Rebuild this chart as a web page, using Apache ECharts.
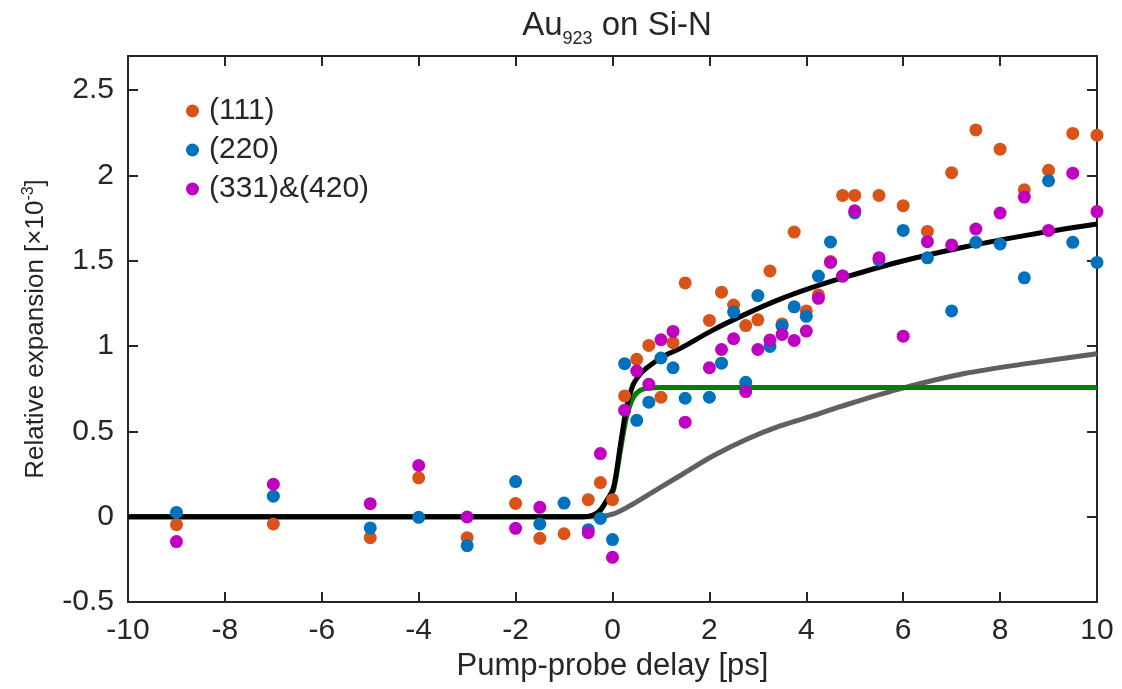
<!DOCTYPE html>
<html>
<head>
<meta charset="utf-8">
<script src="https://cdn.jsdelivr.net/npm/echarts@6/dist/echarts.min.js"></script>
<style>
html,body{margin:0;padding:0;background:#fff;}
#chart{width:1122px;height:689px;}
</style>
</head>
<body>
<div id="chart"></div>
<script>
// Pump-probe delays [ps]
const delays = [-9,-7,-5,-4,-3,-2,-1.5,-1,-0.5,-0.25,0,0.25,0.5,0.75,1,1.25,1.5,2,2.25,2.5,2.75,3,3.25,3.5,3.75,4,4.25,4.5,4.75,5,5.5,6,6.5,7,7.5,8,8.5,9,9.5,10];
// Relative expansion [x10^-3]
const s111 = [-0.047,-0.043,-0.123,0.228,-0.123,0.078,-0.127,-0.10,0.10,0.20,0.10,0.708,0.922,1.004,0.70,1.02,1.37,1.15,1.316,1.24,1.12,1.154,1.44,1.13,1.668,1.206,1.30,1.495,1.883,1.883,1.883,1.823,1.672,2.016,2.267,2.154,1.916,2.03,2.246,2.236];
const s220 = [0.025,0.12,-0.066,-0.004,-0.17,0.206,-0.043,0.08,-0.076,-0.01,-0.134,0.897,0.565,0.671,0.93,0.873,0.694,0.70,0.90,1.199,0.788,1.296,0.998,1.117,1.23,1.174,1.41,1.61,1.41,1.78,1.505,1.678,1.517,1.206,1.608,1.598,1.40,1.969,1.608,1.49];
const s331 = [-0.146,0.19,0.076,0.30,-0.002,-0.068,0.055,null,-0.094,0.37,-0.238,0.624,0.854,0.776,1.037,1.086,0.554,0.873,0.98,1.043,0.733,0.98,1.035,1.068,1.033,1.088,1.28,1.49,1.41,1.793,1.517,1.058,1.612,1.593,1.686,1.78,1.873,1.678,2.013,1.788];

// Fit curves
const totalT = [-10,-0.6,-0.4,-0.26,-0.12,0.02,0.155,0.29,0.43,0.57,0.71,1.05,1.39,2.08,2.77,3.46,4.14,4.7,5.87,7.24,8.62,10];
const totalY = [0,0,0.01,0.035,0.094,0.17,0.405,0.64,0.776,0.835,0.873,0.94,0.985,1.095,1.19,1.275,1.345,1.395,1.49,1.579,1.653,1.715];
const fastT = [-10,-0.6,-0.4,-0.26,-0.12,0.02,0.155,0.29,0.43,0.57,0.71,1.0,10];
const fastY = [0,0,0.008,0.035,0.094,0.155,0.375,0.585,0.70,0.74,0.752,0.757,0.757];
const slowT = [-10,-0.3,0.02,0.36,0.71,1.39,2.08,2.77,3.46,4.14,4.7,5.87,7.24,8.62,10];
const slowY = [0,0,0.016,0.064,0.123,0.24,0.357,0.454,0.532,0.592,0.645,0.745,0.838,0.90,0.955];

const xTicks = {min:-10, max:10, interval:2};
const yTicks = {min:-0.5, max:2.7, interval:0.5};

const pair = (xs, ys) => xs.map((x,i) => [x, ys[i]]).filter(p => p[1] !== null);

const TXT = '#262626';
const FONT = 'Liberation Sans, Arial, Helvetica, sans-serif';
const axisLineStyle = {color: TXT, width: 2};

const chart = echarts.init(document.getElementById('chart'), null, {renderer:'canvas'});
chart.setOption({
  animation: false,
  backgroundColor: '#fff',
  textStyle: {fontFamily: FONT, color: TXT},
  title: {
    text: '{a|Au}{s|923}{a| on Si-N}',
    left: 612, textAlign: 'center', top: 10,
    textStyle: {
      fontWeight: 'normal',
      rich: {
        a: {fontSize: 33, lineHeight: 33, color: TXT, fontFamily: FONT, fontWeight: 'normal', verticalAlign: 'bottom', padding: [0,0,6,0]},
        s: {fontSize: 18, lineHeight: 18, color: TXT, fontFamily: FONT, fontWeight: 'normal', verticalAlign: 'bottom'}
      }
    }
  },
  legend: {
    data: ['(111)','(220)','(331)&(420)'],
    orient: 'vertical',
    left: 181, top: 91,
    icon: 'circle',
    itemWidth: 23, itemHeight: 13, itemGap: 9,
    textStyle: {fontSize: 30, color: TXT, fontFamily: FONT}
  },
  grid: {left: 128, right: 25, top: 56, bottom: 87, containLabel: false},
  xAxis: [{
    type: 'value', min: xTicks.min, max: xTicks.max, interval: xTicks.interval,
    position: 'bottom',
    name: 'Pump-probe delay [ps]', nameLocation: 'middle', nameGap: 48,
    nameTextStyle: {fontSize: 31, color: TXT, fontFamily: FONT},
    axisLine: {show: true, onZero: false, lineStyle: axisLineStyle},
    axisTick: {show: true, inside: true, length: 10, lineStyle: axisLineStyle},
    axisLabel: {fontSize: 30, color: TXT, margin: 14, fontFamily: FONT},
    splitLine: {show: false}
  },{
    type: 'value', min: xTicks.min, max: xTicks.max, interval: xTicks.interval,
    position: 'top',
    axisLine: {show: true, onZero: false, lineStyle: axisLineStyle},
    axisTick: {show: true, inside: true, length: 10, lineStyle: axisLineStyle},
    axisLabel: {show: false},
    splitLine: {show: false}
  }],
  yAxis: [{
    type: 'value', min: yTicks.min, max: yTicks.max, interval: yTicks.interval,
    position: 'left',
    name: 'Relative expansion [×10{sup|-3}]', nameLocation: 'middle', nameGap: 77,
    nameTextStyle: {fontSize: 26, color: TXT, fontFamily: FONT,
      rich: {sup: {fontSize: 16, color: TXT, fontFamily: FONT, padding: [0,0,14,0]}}},
    axisLine: {show: true, onZero: false, lineStyle: axisLineStyle},
    axisTick: {show: true, inside: true, length: 10, lineStyle: axisLineStyle},
    axisLabel: {fontSize: 30, color: TXT, margin: 14, fontFamily: FONT, showMaxLabel: false},
    splitLine: {show: false}
  },{
    type: 'value', min: yTicks.min, max: yTicks.max, interval: yTicks.interval,
    position: 'right',
    axisLine: {show: true, onZero: false, lineStyle: axisLineStyle},
    axisTick: {show: true, inside: true, length: 10, lineStyle: axisLineStyle},
    axisLabel: {show: false},
    splitLine: {show: false}
  }],
  series: [
    {name: 'slow', type: 'line', data: pair(slowT, slowY), showSymbol: false, smooth: 0.3,
     lineStyle: {color: '#606060', width: 5}, silent: true, z: 1},
    {name: 'fast', type: 'line', data: pair(fastT, fastY), showSymbol: false, smooth: 0.3,
     lineStyle: {color: '#008000', width: 5}, silent: true, z: 1},
    {name: 'total', type: 'line', data: pair(totalT, totalY), showSymbol: false, smooth: 0.3,
     lineStyle: {color: '#000000', width: 5}, silent: true, z: 2},
    {name: '(111)', type: 'scatter', data: pair(delays, s111), symbolSize: 13,
     itemStyle: {color: '#D95319', opacity: 1}, z: 3},
    {name: '(220)', type: 'scatter', data: pair(delays, s220), symbolSize: 13,
     itemStyle: {color: '#0072BD', opacity: 1}, z: 3},
    {name: '(331)&(420)', type: 'scatter', data: pair(delays, s331), symbolSize: 13,
     itemStyle: {color: '#C000C0', opacity: 1}, z: 3}
  ]
});
</script>
</body>
</html>
